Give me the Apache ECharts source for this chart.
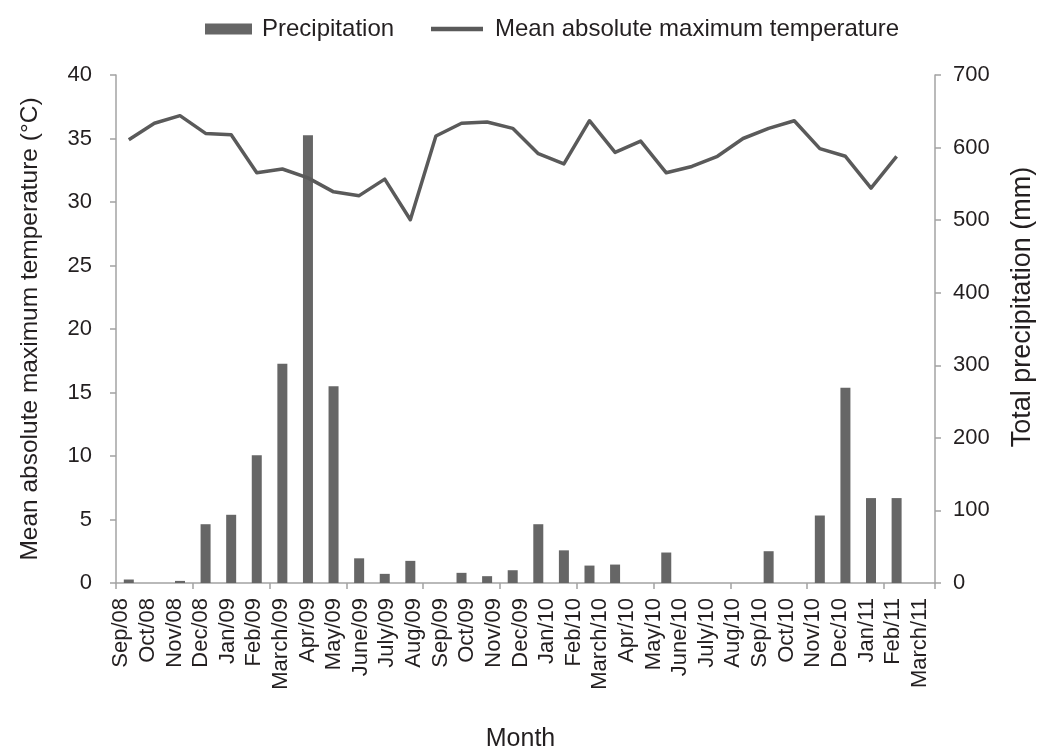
<!DOCTYPE html>
<html>
<head>
<meta charset="utf-8">
<script src="https://cdn.jsdelivr.net/npm/echarts@6/dist/echarts.min.js"></script>
<style>
html,body{margin:0;padding:0;background:#fff;}
#chart{width:1039px;height:749px;}
</style>
</head>
<body>
<div id="chart"></div>
<script>
const months = ['Sep/08','Oct/08','Nov/08','Dec/08','Jan/09','Feb/09','March/09','Apr/09','May/09','June/09','July/09','Aug/09','Sep/09','Oct/09','Nov/09','Dec/09','Jan/10','Feb/10','March/10','Apr/10','May/10','June/10','July/10','Aug/10','Sep/10','Oct/10','Nov/10','Dec/10','Jan/11','Feb/11','March/11'];
const precipitation = [4.8,0,2.9,81,94,176,302,617,271,34,12.6,30.5,0,14,9.4,17.6,81,45,24,25.4,0,42,0,0,0,43.8,0,93,269,117,117];
const temperature = [34.9,36.2,36.8,35.4,35.3,32.3,32.6,31.9,30.8,30.5,31.8,28.6,35.2,36.2,36.3,35.8,33.8,33.0,36.4,33.9,34.8,32.3,32.8,33.6,35.0,35.8,36.4,34.2,33.6,31.1,33.6];
const tempTicks = {min:0, max:40, interval:5};
const precTicks = {min:0, max:700, interval:100};

// plotting slots: the original chart reserves one empty trailing slot
const slots = months.concat(['']);

const font = 'Liberation Sans, Arial, sans-serif';
const txt = '#231f20';
const axisCol = '#a3a3a3';

const chart = echarts.init(document.getElementById('chart'), null, {renderer:'canvas'});
chart.setOption({
  animation:false,
  backgroundColor:'#fff',
  textStyle:{fontFamily:font},
  legend:[
    {
      left:200, top:12,
      itemWidth:47, itemHeight:11,
      textStyle:{fontSize:24, color:txt, fontFamily:font, padding:[0,0,0,5]},
      data:[{name:'Precipitation', icon:'rect'}]
    },
    {
      left:426, top:12,
      itemWidth:52, itemHeight:4.5,
      textStyle:{fontSize:24, color:txt, fontFamily:font, padding:[0,0,0,7]},
      data:[{name:'Mean absolute maximum temperature', icon:'rect'}]
    }
  ],
  grid:[
    {left:116, right:104, top:75, bottom:166, containLabel:false, outerBoundsMode:'none'},
    {left:108, right:106, top:75, bottom:166, containLabel:false, outerBoundsMode:'none'}
  ],
  xAxis:[
    {
      type:'category', data:slots, boundaryGap:true, gridIndex:0,
      axisLine:{show:true, lineStyle:{color:axisCol, width:1.5}},
      axisTick:{show:true, length:6, lineStyle:{color:axisCol, width:1.5}},
      axisLabel:{show:false},
      splitLine:{show:false}
    },
    {
      type:'category', data:months, position:'bottom', boundaryGap:true, gridIndex:1,
      axisLine:{show:false}, axisTick:{show:false},
      axisLabel:{interval:0, rotate:90, fontSize:22, color:txt, margin:15, fontFamily:font},
      splitLine:{show:false},
      name:'Month', nameLocation:'middle', nameGap:144,
      nameTextStyle:{fontSize:25, color:txt, fontFamily:font}
    }
  ],
  yAxis:[
    {
      type:'value', min:tempTicks.min, max:tempTicks.max, interval:tempTicks.interval,
      position:'left', gridIndex:0,
      name:'Mean absolute maximum temperature (°C)', nameLocation:'middle', nameGap:73, nameRotate:90,
      nameTextStyle:{fontSize:24.5, color:txt, fontFamily:font},
      axisLine:{show:true, lineStyle:{color:axisCol, width:1.5}},
      axisTick:{show:true, length:6, lineStyle:{color:axisCol, width:1.5}},
      axisLabel:{fontSize:22, color:txt, margin:24, fontFamily:font},
      splitLine:{show:false}
    },
    {
      type:'value', min:precTicks.min, max:precTicks.max, interval:precTicks.interval,
      position:'right', gridIndex:0,
      name:'Total precipitation (mm)', nameLocation:'middle', nameGap:74, nameRotate:90,
      nameTextStyle:{fontSize:27, color:txt, fontFamily:font, padding:[0,0,0,44]},
      axisLine:{show:true, lineStyle:{color:axisCol, width:1.5}},
      axisTick:{show:true, length:6, lineStyle:{color:axisCol, width:1.5}},
      axisLabel:{fontSize:22, color:txt, margin:18, fontFamily:font},
      splitLine:{show:false}
    },
    {
      type:'value', gridIndex:1, show:false, min:0, max:1
    }
  ],
  series:[
    {
      name:'Precipitation', type:'bar', xAxisIndex:0, yAxisIndex:1,
      data:precipitation, barWidth:10,
      itemStyle:{color:'#666666'}
    },
    {
      name:'Mean absolute maximum temperature', type:'line', xAxisIndex:0, yAxisIndex:0,
      data:temperature, symbol:'none', showSymbol:false,
      lineStyle:{color:'#5a5a5a', width:3.5, join:'round'},
      itemStyle:{color:'#5a5a5a'}
    }
  ]
});
</script>
</body>
</html>
